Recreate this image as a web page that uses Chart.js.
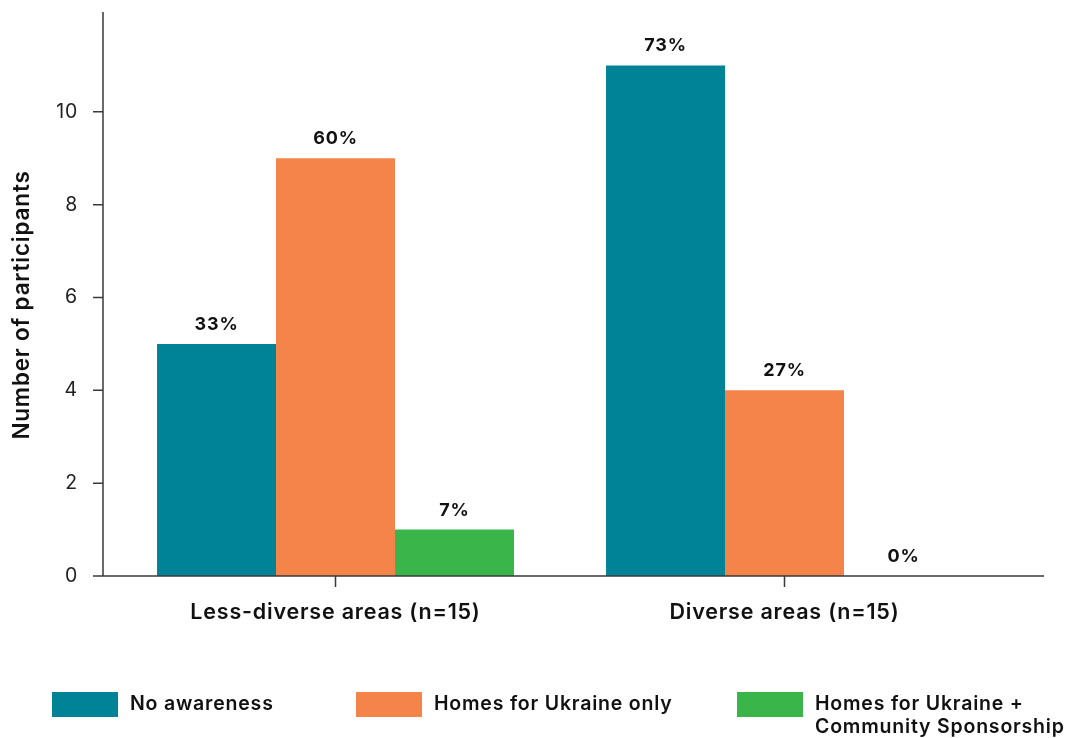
<!DOCTYPE html>
<html>
<head>
<meta charset="utf-8">
<script src="https://cdn.jsdelivr.net/npm/chart.js@4"></script>
<style>
  html, body { margin: 0; padding: 0; background: #fff; }
  #wrap { width: 1079px; height: 738px; position: relative; }
</style>
</head>
<body>
<div id="wrap"><canvas id="awarenessChart"></canvas></div>
<script>
// Data
const areas = ['Less-diverse areas (n=15)', 'Diverse areas (n=15)'];
const groupSize = [15, 15];
const seriesNames = ['No awareness', 'Homes for Ukraine only', ['Homes for Ukraine +', 'Community Sponsorship']];
const noAwareness = [5, 11];
const homesOnly = [9, 4];
const homesPlusCommunity = [1, 0];
const yTicks = [0, 2, 4, 6, 8, 10];
const yMax = 12.15;
const yTitle = 'Number of participants';

const colors = ['#008396', '#F4844A', '#3AB54A'];
const axisColor = '#3a3a3a';
const fontFamily = 'Inter, "Open Sans", sans-serif';
const spacing = '0.8px';

// draws the axis lines, tick marks, percent labels, y title and legend
const axesAndLabels = {
  id: 'axesAndLabels',
  beforeLayout(chart) { chart.ctx.letterSpacing = spacing; },
  beforeDraw(chart) { chart.ctx.letterSpacing = spacing; },
  afterDatasetsDraw(chart) {
    const { ctx, chartArea, scales } = chart;
    const yLineX = chartArea.left - 8;
    ctx.save();
    ctx.strokeStyle = axisColor;
    ctx.lineWidth = 1.5;
    ctx.beginPath();
    ctx.moveTo(yLineX, chartArea.top);
    ctx.lineTo(yLineX, chartArea.bottom);
    ctx.moveTo(yLineX - 10, chartArea.bottom);
    ctx.lineTo(chartArea.right + 35, chartArea.bottom);
    yTicks.forEach(v => {
      const y = scales.y.getPixelForValue(v);
      ctx.moveTo(yLineX - 10, y);
      ctx.lineTo(yLineX, y);
    });
    areas.forEach((a, i) => {
      const x = scales.x.getPixelForValue(i);
      ctx.moveTo(x, chartArea.bottom);
      ctx.lineTo(x, chartArea.bottom + 11);
    });
    ctx.stroke();

    ctx.fillStyle = '#111';
    ctx.font = '700 18px ' + fontFamily;
    ctx.textAlign = 'center';
    ctx.textBaseline = 'alphabetic';
    chart.data.datasets.forEach((ds, di) => {
      chart.getDatasetMeta(di).data.forEach((bar, i) => {
        const pct = Math.round(ds.data[i] / groupSize[i] * 100) + '%';
        ctx.fillText(pct, bar.x, bar.y - 14);
      });
    });

    // y title, sits a little below the middle of the axis
    ctx.save();
    ctx.translate(22, 305);
    ctx.rotate(-Math.PI / 2);
    ctx.font = '600 22.5px ' + fontFamily;
    ctx.textBaseline = 'middle';
    ctx.fillText(yTitle, 0, 0);
    ctx.restore();
    ctx.restore();
  },
  afterDraw(chart) {
    const { ctx } = chart;
    const legendX = [52, 356, 737];
    const boxY = 692;
    ctx.save();
    ctx.font = '600 19.5px ' + fontFamily;
    ctx.textBaseline = 'middle';
    ctx.textAlign = 'left';
    seriesNames.forEach((name, i) => {
      ctx.fillStyle = colors[i];
      ctx.fillRect(legendX[i], boxY, 66, 25);
      ctx.fillStyle = '#111';
      const lines = Array.isArray(name) ? name : [name];
      lines.forEach((line, j) => {
        ctx.fillText(line, legendX[i] + 78, boxY + 12 + j * 23);
      });
    });
    ctx.restore();
  }
};

new Chart(document.getElementById('awarenessChart'), {
  type: 'bar',
  data: {
    labels: areas,
    datasets: [
      { label: 'No awareness', data: noAwareness, backgroundColor: colors[0] },
      { label: 'Homes for Ukraine only', data: homesOnly, backgroundColor: colors[1] },
      { label: 'Homes for Ukraine + Community Sponsorship', data: homesPlusCommunity, backgroundColor: colors[2] }
    ]
  },
  options: {
    responsive: true,
    maintainAspectRatio: false,
    animation: false,
    categoryPercentage: 0.795,
    barPercentage: 1,
    layout: { padding: { top: 12, right: 70, bottom: 102, left: 0 } },
    plugins: {
      legend: { display: false },
      tooltip: { enabled: false }
    },
    scales: {
      x: {
        grid: { display: false, drawTicks: false },
        border: { display: false },
        ticks: {
          color: '#111',
          padding: 24,
          maxRotation: 0,
          font: { family: fontFamily, size: 21.5, weight: '600' }
        },
        afterFit: s => { s.height = 60; }
      },
      y: {
        min: 0,
        max: yMax,
        grid: { display: false, drawTicks: false },
        border: { display: false },
        afterBuildTicks: s => { s.ticks = yTicks.map(v => ({ value: v })); },
        ticks: {
          color: '#222',
          padding: 33,
          font: { family: fontFamily, size: 19.5 }
        },
        title: { display: false },
        afterFit: s => { s.width = 111; s.paddingTop = 0; s.paddingBottom = 0; }
      }
    }
  },
  plugins: [axesAndLabels]
});
</script>
</body>
</html>
